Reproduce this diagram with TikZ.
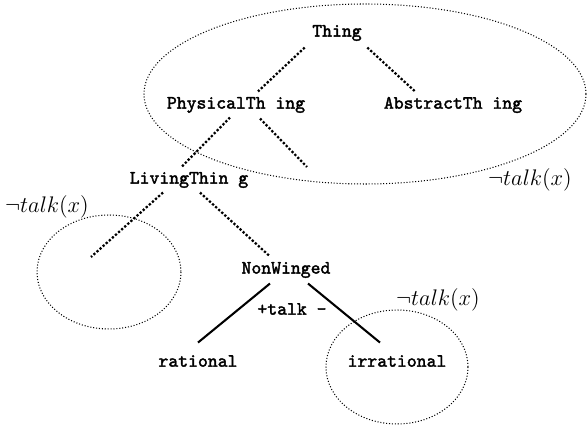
\documentclass[tikz,border=0pt]{standalone}
\usepackage{amsmath,amssymb}
\usepackage{fontspec}
\setmonofont{Latin Modern Mono}[BoldFont={Latin Modern Mono},BoldFeatures={FakeBold=2}]
\usepackage{tikz}

\begin{document}
\begin{tikzpicture}[x=0.532pt,y=-0.532pt,
  concept/.style={font=\ttfamily\bfseries},
  open/.style={densely dotted,line width=1.2pt},
  closed/.style={line width=1.1pt},
  region/.style={densely dotted,line width=0.55pt}]
 \useasboundingbox (0,0) rectangle (587,430);
 \node[concept] (Th) at (337,33)  {Thing};
 \node[concept] (Ph) at (236,105) {PhysicalTh ing};
 \node[concept] (Ab) at (453,105) {AbstractTh ing};
 \node[concept] (Li) at (189,180) {LivingThin g};
 \node[concept] (NW) at (286,270) {NonWinged};
 \node[concept] (Ra) at (198,361) {rational};
 \node[concept] (Ir) at (397,361) {irrational};
 \coordinate (E1) at (307,167);
 \coordinate (E2) at (91,257);
 % the tree
 \draw[open] ([shift={(-1,0)}]Th.south west) to ([shift={(22,1)}]Ph.north);
 \draw[open] ([shift={(-1,0)}]Th.south east) to ([shift={(-38,1)}]Ab.north);
 \draw[open] ([shift={(-6,-2)}]Ph.south) to ([shift={(-7,1)}]Li.north);
 \draw[open] ([shift={(24,-1)}]Ph.south) to (E1);
 \draw[open] ([shift={(-26,-2)}]Li.south) to (E2);
 \draw[open] ([shift={(11,-2)}]Li.south) to ([shift={(-16,1)}]NW.north);
 \draw[closed] ([shift={(-16,-1)}]NW.south) to ([shift={(0,-6)}]Ra.north);
 \draw[closed] ([shift={(22,-1)}]NW.south) to ([shift={(-17,-6)}]Ir.north);
 \node[concept] (tk) at (292,309) {+talk -};
 % the regions
 \draw[region] (365,94) ellipse [x radius=221, y radius=90];
 \draw[region] (109,272) ellipse [x radius=72, y radius=57];
 \draw[region] (397,367) ellipse [x radius=71, y radius=57];
 \node (n1) at (530,180) {\large $\neg talk(x)$};
 \node (n2) at (47,207)  {\large $\neg talk(x)$};
 \node (n3) at (438,300) {\large $\neg talk(x)$};
\end{tikzpicture}
\end{document}
